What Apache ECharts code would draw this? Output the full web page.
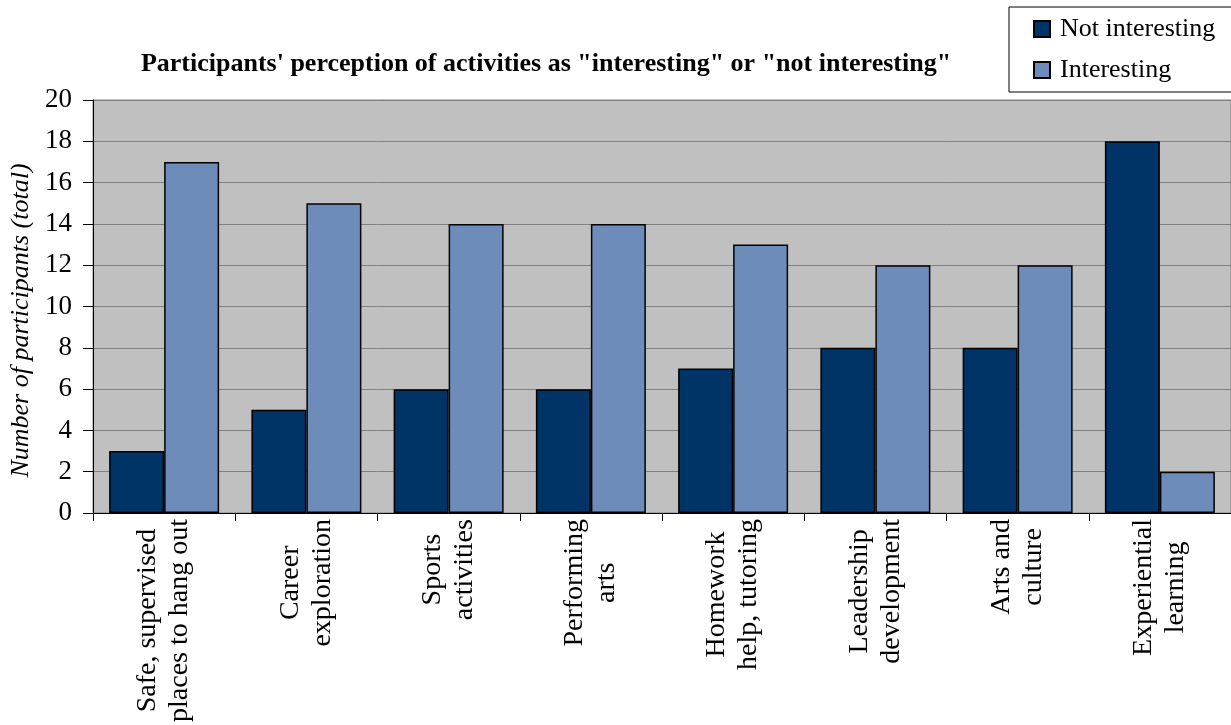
<!DOCTYPE html>
<html>
<head>
<meta charset="utf-8">
<script src="https://cdn.jsdelivr.net/npm/echarts@6/dist/echarts.min.js"></script>
<style>
html,body{margin:0;padding:0;background:#fff;}
#chart{width:1231px;height:725px;}
</style>
</head>
<body>
<div id="chart"></div>
<script>
const categories = [
  "Safe, supervised\nplaces to hang out",
  "Career\nexploration",
  "Sports\nactivities",
  "Performing\narts",
  "Homework\nhelp, tutoring",
  "Leadership\ndevelopment",
  "Arts and\nculture",
  "Experiential\nlearning"
];
const notInteresting = [3, 5, 6, 6, 7, 8, 8, 18];
const interesting = [17, 15, 14, 14, 13, 12, 12, 2];
const yTicks = [0, 2, 4, 6, 8, 10, 12, 14, 16, 18, 20];

const FONT = "'Liberation Serif', 'Times New Roman', serif";
const chart = echarts.init(document.getElementById('chart'), null, {renderer: 'canvas'});
chart.setOption({
  animation: false,
  backgroundColor: '#ffffff',
  title: {
    text: "Participants' perception of activities as \"interesting\" or \"not interesting\"",
    left: 546,
    textAlign: 'center',
    top: 51,
    padding: 0,
    textStyle: {fontFamily: FONT, fontWeight: 'bold', fontSize: 26, color: '#000'}
  },
  legend: {
    orient: 'vertical',
    left: 1009,
    top: 7,
    padding: [9, 30, 9, 24],
    itemGap: 15,
    itemWidth: 16,
    itemHeight: 16,
    icon: 'rect',
    backgroundColor: '#ffffff',
    borderColor: '#000000',
    borderWidth: 1,
    borderRadius: 0,
    textStyle: {fontFamily: FONT, fontSize: 26, color: '#000', padding: [0, 0, 0, 5]},
    data: ['Not interesting', 'Interesting']
  },
  grid: {
    show: true,
    left: 92,
    top: 100,
    right: -5,
    bottom: 211,
    backgroundColor: '#c0c0c0',
    borderColor: '#808080',
    borderWidth: 1,
    containLabel: false
  },
  xAxis: {
    type: 'category',
    data: categories,
    boundaryGap: true,
    axisLine: {show: true, lineStyle: {color: '#000', width: 1}},
    axisTick: {show: true, length: 8, lineStyle: {color: '#000', width: 1}},
    axisLabel: {
      interval: 0,
      rotate: 90,
      margin: 6,
      fontFamily: FONT,
      fontSize: 28,
      color: '#000',
      formatter: function (v) {
        return v.split('\n').map(function (s) { return '{c|' + s + '}'; }).join('\n');
      },
      rich: {
        c: {align: 'center', fontFamily: FONT, fontSize: 28, lineHeight: 32, color: '#000'}
      }
    },
    splitLine: {show: false}
  },
  yAxis: {
    type: 'value',
    min: yTicks[0],
    max: yTicks[yTicks.length - 1],
    interval: 2,
    name: 'Number of participants (total)',
    nameLocation: 'middle',
    nameGap: 59,
    nameTextStyle: {fontFamily: FONT, fontStyle: 'italic', fontSize: 26, color: '#000', padding: [0, 28, 0, 0]},
    axisLine: {show: true, lineStyle: {color: '#000', width: 1}},
    axisTick: {show: true, inside: false, length: 10, lineStyle: {color: '#000', width: 1}},
    axisLabel: {margin: 21, fontFamily: FONT, fontSize: 27, color: '#000'},
    splitLine: {show: true, lineStyle: {color: '#808080', width: 1}}
  },
  series: [
    {
      name: 'Not interesting',
      type: 'bar',
      data: notInteresting,
      barWidth: 55,
      barGap: '0%',
      itemStyle: {color: '#003366', borderColor: '#000', borderWidth: 1.5}
    },
    {
      name: 'Interesting',
      type: 'bar',
      data: interesting,
      barWidth: 55,
      barGap: '0%',
      itemStyle: {color: '#6e8cb9', borderColor: '#000', borderWidth: 1.5}
    }
  ]
});
</script>
</body>
</html>
